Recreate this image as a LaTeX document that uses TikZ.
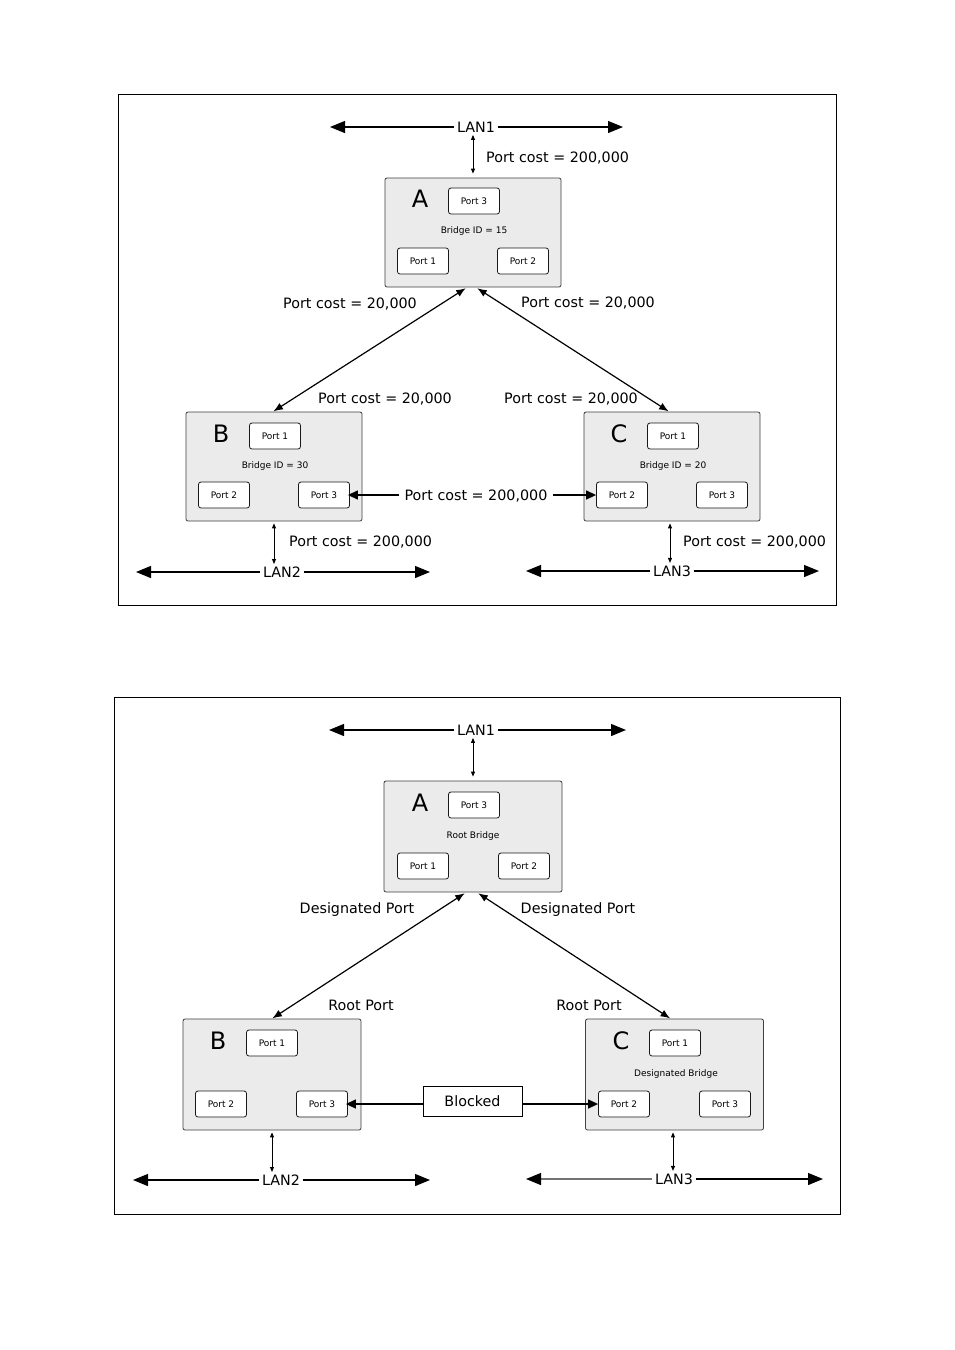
\documentclass[tikz,border=0pt]{standalone}
\usepackage{fontspec}
\setmainfont{DejaVu Sans}
\usetikzlibrary{arrows.meta,calc}
\begin{document}
\begin{tikzpicture}[x=1pt,y=-1pt,
  bridge/.style={draw=black!75, fill=black!8, rounded corners=2pt, minimum width=176pt, minimum height=109pt, inner sep=0pt, line width=0.8pt},
  bridgeb/.style={bridge, minimum width=178pt, minimum height=111pt},
  port/.style={draw=black!90, fill=white, rounded corners=2.5pt, minimum width=51pt, minimum height=26pt, inner sep=0pt, line width=0.8pt, font=\fontsize{9}{10}\selectfont},
  big/.style={inner sep=0pt, font=\fontsize{24}{26}\selectfont},
  small/.style={inner sep=0pt, font=\fontsize{9}{10}\selectfont},
  lbl/.style={inner sep=0pt, font=\fontsize{14.3}{16}\selectfont},
  lantxt/.style={inner sep=2.5pt, font=\fontsize{14.3}{16}\selectfont},
  lan/.style={line width=1.2pt, -{Triangle[length=15pt,width=12pt,color=black]}},
  link/.style={line width=1.2pt, {Latex[length=9.5pt,width=7.5pt]}-{Latex[length=9.5pt,width=7.5pt]}},
  harrow/.style={line width=1.3pt, -{Triangle[length=10pt,width=9pt]}},
  vsmall/.style={line width=0.9pt, {Triangle[length=5pt,width=4pt]}-{Triangle[length=5pt,width=4pt]}},
  frame/.style={draw=black, line width=1pt}]
\useasboundingbox (0,0) rectangle (954,1350);
\fill[white] (0,0) rectangle (954,1350);

% ================= TOP DIAGRAM =================
\draw[frame] (118,94) rectangle (836,605);

% LAN1
\node[lantxt] (tlan1) at (476,127) {LAN1};
\coordinate (tl1L) at (330,127);
\coordinate (tl1R) at (623,127);
\draw[lan] (tlan1) -- (tl1L);
\draw[lan] (tlan1) -- (tl1R);

% Bridge A
\node[bridge] (tA) at (473,232.5) {};
\node[port] (tA3) at (474,201) {Port 3};
\node[port] (tA1) at (423,261) {Port 1};
\node[port] (tA2) at (523,261) {Port 2};
\node[big] (tAn) at (420,199) {A};
\node[small] (tAid) at (474,231) {Bridge ID = 15};

\draw[vsmall, shorten <=4pt] (tA.north) -- (tA.north |- tlan1.south);
\node[lbl, anchor=west] (tpc1) at (486,158.5) {Port cost = 200,000};

% Bridge B
\node[bridge] (tB) at (274,466.5) {};
\node[port] (tB1) at (275,436) {Port 1};
\node[port] (tB2) at (224,495) {Port 2};
\node[port] (tB3) at (324,495) {Port 3};
\node[big] (tBn) at (221,434) {B};
\node[small] (tBid) at (275,466) {Bridge ID = 30};

% Bridge C
\node[bridge] (tC) at (672,466.5) {};
\node[port] (tC1) at (673,436) {Port 1};
\node[port] (tC2) at (622,495) {Port 2};
\node[port] (tC3) at (722,495) {Port 3};
\node[big] (tCn) at (619,434) {C};
\node[small] (tCid) at (673,466) {Bridge ID = 20};

% links A-B, A-C
\draw[link, shorten <=1.5pt, shorten >=0.5pt] ([xshift=-6pt]tA.south) -- ([xshift=-1pt]tB.north);
\draw[link, shorten <=1.5pt, shorten >=0.5pt] ([xshift=3pt]tA.south) -- ([xshift=-3pt]tC.north);
\node[lbl] (tpcAB) at (350,304) {Port cost = 20,000};
\node[lbl] (tpcAC) at (588,303) {Port cost = 20,000};
\node[lbl] (tpcB) at (385,399) {Port cost = 20,000};
\node[lbl] (tpcC) at (571,399) {Port cost = 20,000};

% B-C link
\node[lbl, inner sep=5pt] (tpcBC) at (476,496) {Port cost = 200,000};
\draw[harrow, shorten >=-2pt] (tpcBC.west |- tB3) -- (tB3.east);
\draw[harrow] (tpcBC.east |- tC2) -- (tC2.west);

% LAN2
\node[lantxt] (tlan2) at (282,572) {LAN2};
\coordinate (tl2L) at (136,572);
\coordinate (tl2R) at (430,572);
\draw[lan] (tlan2) -- (tl2L);
\draw[lan] (tlan2) -- (tl2R);
\draw[vsmall, shorten <=2pt] (tB.south) -- (tB.south |- tlan2.north);
\node[lbl, anchor=west] (tpcB2) at (289,542) {Port cost = 200,000};

% LAN3
\node[lantxt] (tlan3) at (672,571) {LAN3};
\coordinate (tl3L) at (526,571);
\coordinate (tl3R) at (819,571);
\draw[lan] (tlan3) -- (tl3L);
\draw[lan] (tlan3) -- (tl3R);
\draw[vsmall, shorten <=2pt] ([xshift=-2pt]tC.south) -- ([xshift=-2pt]tC.south |- tlan3.north);
\node[lbl, anchor=west] (tpcC2) at (683,542) {Port cost = 200,000};

% ================= BOTTOM DIAGRAM =================
\draw[frame] (114,697) rectangle (840,1214);

% LAN1
\node[lantxt] (blan1) at (476,730) {LAN1};
\coordinate (bl1L) at (329,730);
\coordinate (bl1R) at (626,730);
\draw[lan] (blan1) -- (bl1L);
\draw[lan] (blan1) -- (bl1R);

% Bridge A
\node[bridgeb] (bA) at (473,836.5) {};
\node[port] (bA3) at (474,805) {Port 3};
\node[port] (bA1) at (423,866) {Port 1};
\node[port] (bA2) at (524,866) {Port 2};
\node[big] (bAn) at (420,803) {A};
\node[small] (bAid) at (473,836) {Root Bridge};
\draw[vsmall, shorten <=4pt] (bA.north) -- (bA.north |- blan1.south);

% Bridge B
\node[bridgeb] (bB) at (272,1074.5) {};
\node[port] (bB1) at (272,1043) {Port 1};
\node[port] (bB2) at (221,1104) {Port 2};
\node[port] (bB3) at (322,1104) {Port 3};
\node[big] (bBn) at (218,1041) {B};

% Bridge C
\node[bridgeb] (bC) at (674.5,1074.5) {};
\node[port] (bC1) at (675,1043) {Port 1};
\node[port] (bC2) at (624,1104) {Port 2};
\node[port] (bC3) at (725,1104) {Port 3};
\node[big] (bCn) at (621,1041) {C};
\node[small] (bCid) at (676,1074) {Designated Bridge};

% links
\draw[link, shorten <=1.5pt, shorten >=0.5pt] ([xshift=-7pt]bA.south) -- (bB.north);
\draw[link, shorten <=1.5pt, shorten >=0.5pt] ([xshift=4pt]bA.south) -- ([xshift=-4pt]bC.north);
\node[lbl] (bdpB) at (357,910) {Designated Port};
\node[lbl] (bdpC) at (578,910) {Designated Port};
\node[lbl] (brpB) at (361,1005) {Root Port};
\node[lbl] (brpC) at (589,1005) {Root Port};

% Blocked
\node[draw=black, fill=white, line width=0.9pt, minimum width=99pt, minimum height=30pt, inner sep=0pt, font=\fontsize{14.3}{16}\selectfont] (bblk) at (472.5,1101) {Blocked};
\draw[harrow, shorten >=-2pt] (bblk.west |- bB3) -- (bB3.east);
\draw[harrow] (bblk.east |- bC2) -- (bC2.west);

% LAN2
\node[lantxt] (blan2) at (281,1180) {LAN2};
\coordinate (bl2L) at (133,1180);
\coordinate (bl2R) at (430,1180);
\draw[lan] (blan2) -- (bl2L);
\draw[lan] (blan2) -- (bl2R);
\draw[vsmall, shorten <=2pt] (bB.south) -- (bB.south |- blan2.north);

% LAN3
\node[lantxt] (blan3) at (674,1179) {LAN3};
\coordinate (bl3L) at (526,1179);
\coordinate (bl3R) at (823,1179);
\draw[lan, draw=black!55] (blan3) -- (bl3L);
\draw[lan] (blan3) -- (bl3R);
\draw[vsmall, shorten <=2pt] ([xshift=-1.5pt]bC.south) -- ([xshift=-1.5pt]bC.south |- blan3.north);
\end{tikzpicture}
\end{document}
